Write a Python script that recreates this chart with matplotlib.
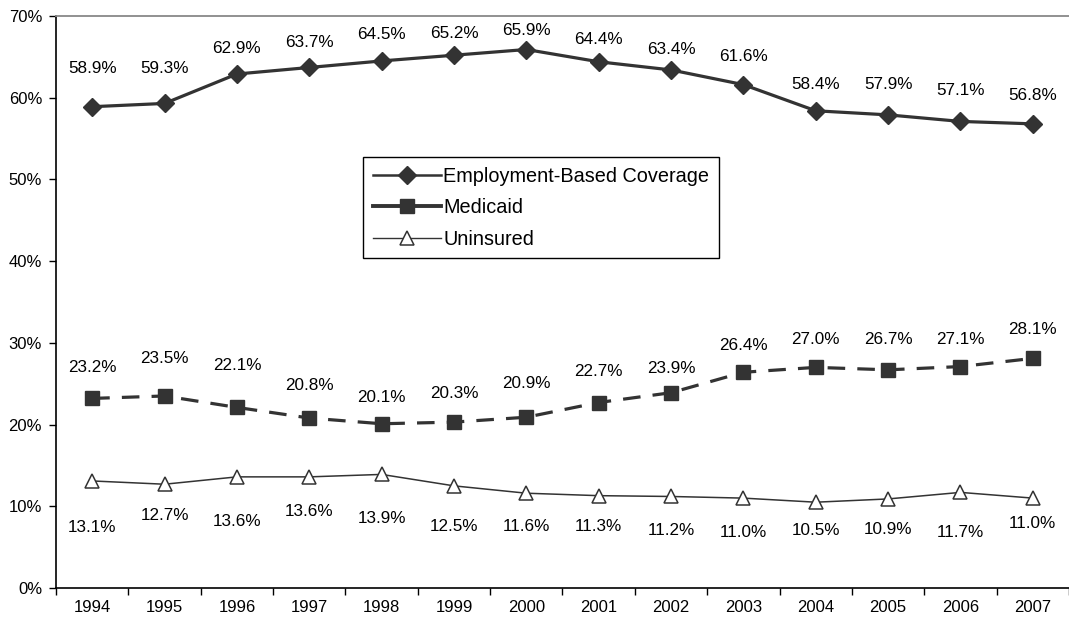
import matplotlib
matplotlib.use("Agg")
import matplotlib.pyplot as plt
from matplotlib.lines import Line2D
from matplotlib.ticker import FixedLocator, NullFormatter

plt.rcParams['font.family'] = ['Liberation Sans', 'DejaVu Sans']

years = ['1994', '1995', '1996', '1997', '1998', '1999', '2000',
         '2001', '2002', '2003', '2004', '2005', '2006', '2007']
employment = [58.9, 59.3, 62.9, 63.7, 64.5, 65.2, 65.9, 64.4, 63.4, 61.6, 58.4, 57.9, 57.1, 56.8]
medicaid = [23.2, 23.5, 22.1, 20.8, 20.1, 20.3, 20.9, 22.7, 23.9, 26.4, 27.0, 26.7, 27.1, 28.1]
uninsured = [13.1, 12.7, 13.6, 13.6, 13.9, 12.5, 11.6, 11.3, 11.2, 11.0, 10.5, 10.9, 11.7, 11.0]

# label offsets in pixels (positive = above the point), as placed in the original
emp_off = [38, 35, 26, 25, 26, 22, 19, 22, 20, 28, 26, 30, 31, 28]
med_off = [31, 37, 42, 33, 26, 29, 34, 31, 24, 27, 28, 30, 27, 29]
uni_off = [-47, -31, -45, -35, -44, -41, -33, -31, -34, -34, -28, -31, -40, -25]

ink = '#333333'
x = list(range(len(years)))

fig = plt.figure(figsize=(10.69, 6.18), dpi=100)
ax = fig.add_axes([56 / 1069, 30 / 618, 1013 / 1069, 572 / 618])

ax.plot(x, employment, color=ink, lw=2.3, marker='D', ms=9)
ax.plot(x, medicaid, color=ink, lw=2.3, marker='s', ms=10,
        linestyle=(0, (5.5, 3.8)))
ax.plot(x, uninsured, color=ink, lw=1.1, marker='^', ms=9.5,
        markerfacecolor='white', markeredgecolor=ink, markeredgewidth=1.1)

for vals, offs in ((employment, emp_off), (medicaid, med_off), (uninsured, uni_off)):
    for xi, v, o in zip(x, vals, offs):
        ax.annotate(f'{v:.1f}%', (xi, v), xytext=(0, o), textcoords='offset pixels',
                    ha='center', va='center', fontsize=12.3, color='black')

ax.set_xlim(-0.5, 13.5)
ax.set_ylim(0, 70)
ax.set_yticks(range(0, 71, 10))
ax.set_yticklabels([f'{v}%' for v in range(0, 71, 10)], fontsize=12)
ax.set_xticks(x)
ax.set_xticklabels(years, fontsize=12)
ax.tick_params(axis='x', which='major', length=0, pad=8.5)
ax.xaxis.set_minor_locator(FixedLocator([i - 0.5 for i in range(len(years) + 1)]))
ax.xaxis.set_minor_formatter(NullFormatter())
ax.tick_params(axis='x', which='minor', length=5, width=1, color='black', direction='out')
ax.tick_params(axis='y', length=5, width=1, color='black', direction='out', pad=5)

ax.spines['right'].set_visible(False)
ax.spines['top'].set_color('#888888')
ax.spines['top'].set_linewidth(1.3)
ax.spines['left'].set_linewidth(1.2)
ax.spines['bottom'].set_linewidth(1.2)

# legend keys are drawn solid in the original
handles = [
    Line2D([], [], color=ink, lw=1.8, marker='D', ms=9),
    Line2D([], [], color=ink, lw=2.8, marker='s', ms=10),
    Line2D([], [], color=ink, lw=1.0, marker='^', ms=9.5,
           markerfacecolor='white', markeredgecolor=ink, markeredgewidth=1.1),
]
labels = ['Employment-Based Coverage', 'Medicaid', 'Uninsured']
leg = ax.legend(handles, labels, loc='upper left',
                bbox_to_anchor=((363 - 56) / 1013, (588 - 157) / 572),
                fontsize=14.3, frameon=True, fancybox=False, borderaxespad=0,
                handlelength=3.45, handletextpad=0.1, labelspacing=0.62,
                borderpad=0.5, framealpha=1)
leg.get_frame().set_edgecolor('black')
leg.get_frame().set_linewidth(1.0)

fig.savefig('out.png', dpi=100)
